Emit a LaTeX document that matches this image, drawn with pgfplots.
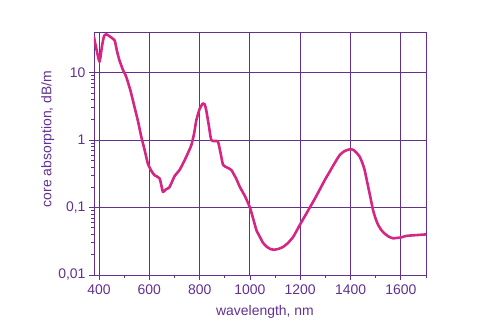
\documentclass[border=0pt]{standalone}
\usepackage{pgfplots}
\pgfplotsset{compat=1.18}
\usepackage{fontspec}
\setmainfont{Liberation Sans}
\definecolor{gridpurple}{RGB}{98,48,145}
\definecolor{curvemag}{RGB}{212,38,130}
\begin{document}
\begin{tikzpicture}
\path[use as bounding box] (-94bp,-56bp) rectangle (396bp,275bp);
\begin{axis}[
  at={(0,0)}, anchor=south west,
  scale only axis, width=332bp, height=243bp,
  ymode=log,
  xmin=380, xmax=1700, ymin=0.01, ymax=40,
  xtick={400,600,...,1600},
  minor xtick={500,700,...,1700},
  ytick={0.01,0.1,1,10},
  yticklabels={0{,}01,0{,}1,1,10},
  xtick pos=bottom, ytick pos=left,
  tick align=outside,
  major tick length=5bp, minor tick length=3bp,
  grid=major,
  major grid style={gridpurple, line width=0.9pt},
  axis line style={gridpurple, line width=1pt},
  every tick/.style={gridpurple, line width=0.8pt},
  /pgf/number format/assume math mode=true,
  /pgf/number format/set thousands separator={},
  tick label style={font=\fontsize{14}{16}\selectfont, text=gridpurple},
  xticklabel style={yshift=-1bp},
  label style={font=\fontsize{14}{16}\selectfont, text=gridpurple},
  xlabel={wavelength, nm},
  ylabel={core absorption, dB/m},
  xlabel style={at={(axis description cs:0.515,-0.152)}, anchor=center},
  ylabel style={at={(axis description cs:-0.139,0.56)}, anchor=center},
  clip=true,
]
\addplot[curvemag, line width=2.6pt, line join=round, smooth, tension=0.3] coordinates {
(379,35) (390,22) (402,14.5) (412,25) (420,35) (429,37) (440,35) (462,30)
(470,22) (481,15.3) (495,11) (508,8.7) (525,5.4) (541,3.1) (555,1.9) (568,1.12)
(581,0.72) (594,0.45) (608,0.35) (621,0.30) (641,0.27) (654,0.17) (665,0.185)
(680,0.2) (700,0.29) (720,0.36) (734,0.45) (750,0.6) (767,0.84)
(778,1.25) (787,1.98) (800,2.9) (813,3.5) (820,3.4) (826,2.8)
(836,1.7) (846,1.0) (860,0.97) (873,0.95) (883,0.65) (893,0.43) (910,0.39)
(926,0.36) (945,0.27) (959,0.205) (980,0.148) (1000,0.1) (1013,0.068)
(1026,0.046) (1039,0.037) (1052,0.030) (1068,0.026) (1085,0.024) (1100,0.0238)
(1115,0.0245) (1131,0.026) (1150,0.0295) (1171,0.0363) (1185,0.0447) (1198,0.055)
(1218,0.074) (1238,0.10) (1258,0.135) (1278,0.186) (1298,0.257) (1317,0.34)
(1337,0.457) (1357,0.6) (1377,0.69) (1397,0.73) (1410,0.72) (1422,0.66) (1436,0.57)
(1446,0.47) (1456,0.36) (1466,0.24) (1476,0.16) (1490,0.09) (1500,0.068) (1510,0.055)
(1523,0.046) (1536,0.041) (1552,0.037) (1569,0.035) (1585,0.0355) (1600,0.036) (1622,0.038)
(1660,0.039) (1700,0.040)
};
\end{axis}
\end{tikzpicture}
\end{document}
